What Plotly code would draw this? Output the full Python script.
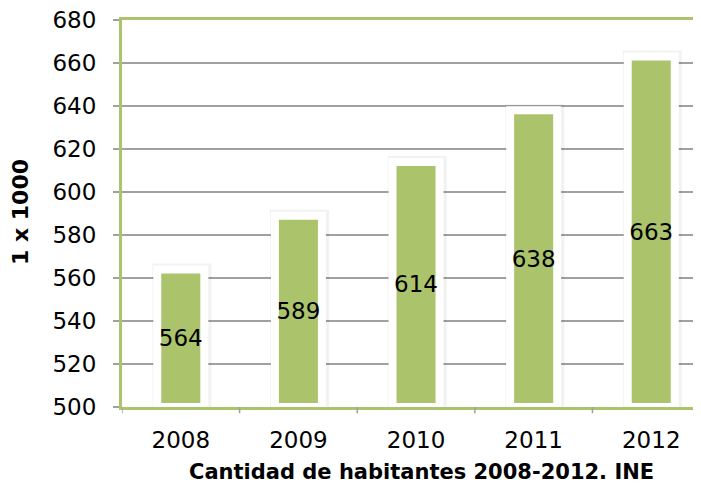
import plotly.graph_objects as go

years = ["2008", "2009", "2010", "2011", "2012"]
habitantes = [564, 589, 614, 638, 663]
y_ticks = [500, 520, 540, 560, 580, 600, 620, 640, 660, 680]
base_value = 500

GREEN = "#ABC46C"
FONT = "DejaVu Sans"

heights = [v - base_value for v in habitantes]

# page body has an 8px default margin, so the figure is sized to fill the rest
W, H = 693, 482
L, T, B = 114, 12, 83
PW, PH = W - L, H - T - B

fig = go.Figure()
# soft shadow behind bars
fig.add_trace(go.Bar(
    x=years, y=heights, base=base_value, width=0.40, offset=-0.19,
    marker=dict(color="rgba(0,0,0,0.05)", line=dict(color="rgba(0,0,0,0.05)", width=12)),
    hoverinfo="skip", showlegend=False,
))
fig.add_trace(go.Bar(
    x=years, y=heights, base=base_value, width=0.40,
    marker=dict(color=GREEN, line=dict(color="white", width=8)),
    text=[str(v) for v in habitantes], textposition="inside", textangle=0,
    insidetextanchor="middle", constraintext="none",
    textfont=dict(family=FONT, size=23, color="black"),
    showlegend=False,
))

fig.update_layout(
    width=W, height=H,
    margin=dict(l=L, r=0, t=T, b=B, autoexpand=False),
    paper_bgcolor="white", plot_bgcolor="white",
    barmode="overlay",
    font=dict(family=FONT, color="black"),
    uniformtext=dict(mode=False),
)
fig.update_xaxes(
    range=[-0.5, 4.423], automargin=False,
    showgrid=False,
    showline=True, linecolor=GREEN, linewidth=3, mirror=True,
    ticks="", ticklabelstandoff=10, ticklabeloverflow="allow",
    tickfont=dict(family=FONT, size=23, color="black"),
)
fig.update_yaxes(
    range=[500, 680], tickvals=y_ticks, automargin=False,
    showgrid=True, gridcolor="#A0A0A0", gridwidth=1.5,
    showline=True, linecolor=GREEN, linewidth=3,
    ticks="outside", ticklen=6, tickcolor="#A0A0A0", tickwidth=1.5,
    ticklabelstandoff=12, ticklabeloverflow="allow",
    tickfont=dict(family=FONT, size=23, color="black"),
    zeroline=False,
)
fig.add_annotation(text="<b>Cantidad de habitantes 2008-2012. INE</b>",
                   xref="paper", yref="paper", x=(421 - 122) / PW, y=-(472 - 407) / PH,
                   showarrow=False, xanchor="center", yanchor="middle",
                   font=dict(family=FONT, size=21, color="black"))
fig.add_annotation(text="<b>1 x 1000</b>", textangle=-90,
                   xref="paper", yref="paper", x=-(122 - 20) / PW, y=(407 - 212) / PH,
                   showarrow=False, xanchor="center", yanchor="middle",
                   font=dict(family=FONT, size=22, color="black"))
# category boundary ticks on bottom axis
for b in [-0.5, 0.5, 1.5, 2.5, 3.5]:
    fig.add_shape(type="line", xref="x", yref="paper", x0=b, x1=b, y0=0, y1=-0.016,
                  line=dict(color="#A0A0A0", width=1.5))

fig.write_html("out.html")
